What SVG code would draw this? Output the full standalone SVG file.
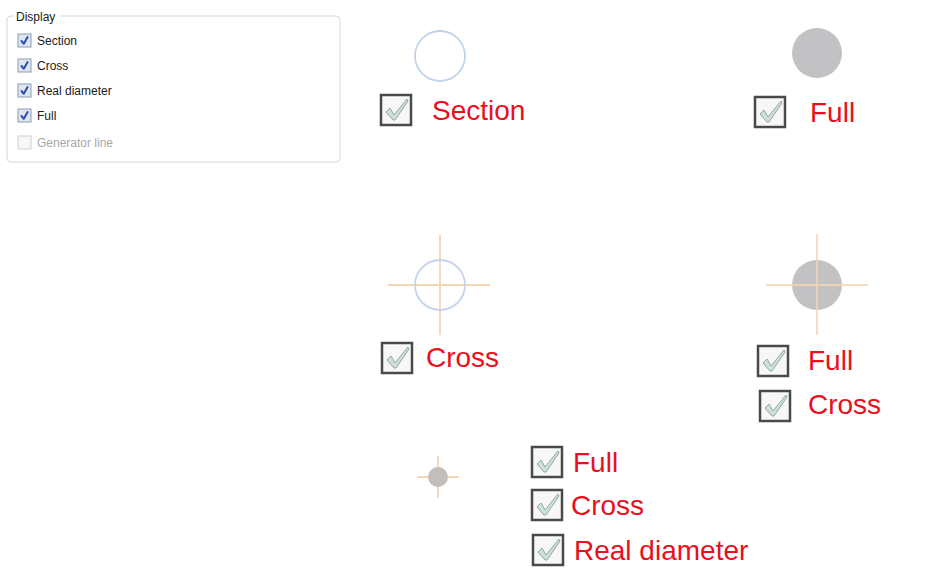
<svg xmlns="http://www.w3.org/2000/svg" width="943" height="583" viewBox="0 0 943 583">
<style>
.ui{font-family:"Liberation Sans",Arial,sans-serif;font-size:12px;fill:#1a1a1a}
.dis{fill:#a8a8a8}
.lbl{font-family:"Liberation Sans",Arial,sans-serif;font-size:28px;fill:#e8101c}
.sb{fill:#dfe6f0;stroke:#8e9bb0;stroke-width:1}
.sck{fill:none;stroke:#2a4fb0;stroke-width:2;stroke-linecap:round;stroke-linejoin:round}
.bb{fill:#f6f7f6;stroke:#4a4a4a;stroke-width:2.5}
.bck{fill:#cfe0d8;stroke:#8fa8a0;stroke-width:1;stroke-linejoin:round}
.ring{fill:none;stroke:#c3d3ec;stroke-width:1.8}
.disk{fill:#c2c2c4}
.cr{stroke:#f3d6b4;stroke-width:1.8}
</style>
<defs>
<g id="sbox"><rect class="sb" x="0" y="0" width="13" height="13"/><path class="sck" d="M3.5 7 L5.8 9.8 L9.6 3"/></g>
<g id="bbox"><rect class="bb" x="0" y="0" width="30" height="30"/><path class="bck" d="M5 17 L9 13 L13 20 L26 4 L27 6 L14 25 L12 25 Z"/></g>
</defs>
<rect width="943" height="583" fill="#ffffff"/>

<g id="panel">
<path d="M14 16 H11 Q7 16 7 20 V158 Q7 162 11 162 H336 Q340 162 340 158 V20 Q340 16 336 16 H60" fill="none" stroke="#d4d7dc" stroke-width="1"/>
<text class="ui" x="16" y="21">Display</text>
<use href="#sbox" x="18" y="34"/><text class="ui" x="37" y="45">Section</text>
<use href="#sbox" x="18" y="59"/><text class="ui" x="37" y="70">Cross</text>
<use href="#sbox" x="18" y="84"/><text class="ui" x="37" y="95">Real diameter</text>
<use href="#sbox" x="18" y="109"/><text class="ui" x="37" y="120">Full</text>
<rect x="18" y="136" width="13" height="13" fill="#f7f7f7" stroke="#d0d0d0"/><text class="ui dis" x="37" y="147">Generator line</text>
</g>

<g id="section">
<circle class="ring" cx="440" cy="56" r="25"/>
<use href="#bbox" x="381" y="95"/>
<text class="lbl" x="432" y="120">Section</text>
</g>

<g id="full">
<circle class="disk" cx="817" cy="53" r="25"/>
<use href="#bbox" x="755" y="97"/>
<text class="lbl" x="810" y="122">Full</text>
</g>

<g id="cross">
<line class="cr" x1="388" y1="285" x2="490" y2="285"/>
<line class="cr" x1="440" y1="235" x2="440" y2="335"/>
<circle class="ring" cx="440" cy="285" r="25"/>
<use href="#bbox" x="382" y="343"/>
<text class="lbl" x="426" y="367">Cross</text>
</g>

<g id="fullcross">
<circle class="disk" cx="817" cy="285" r="25"/>
<line class="cr" x1="766" y1="285" x2="868" y2="285" opacity="0.85"/>
<line class="cr" x1="817" y1="234" x2="817" y2="335" opacity="0.85"/>
<use href="#bbox" x="758" y="346"/>
<text class="lbl" x="808" y="370">Full</text>
<use href="#bbox" x="760" y="391"/>
<text class="lbl" x="808" y="414">Cross</text>
</g>

<g id="realdiam">
<line class="cr" x1="417" y1="477" x2="459" y2="477"/>
<line class="cr" x1="438" y1="456" x2="438" y2="498"/>
<circle cx="438" cy="477" r="10" fill="#c4beba"/>
<use href="#bbox" x="532" y="447"/>
<text class="lbl" x="573" y="472">Full</text>
<use href="#bbox" x="532" y="490"/>
<text class="lbl" x="571" y="515">Cross</text>
<use href="#bbox" x="533" y="535"/>
<text class="lbl" x="574" y="560">Real diameter</text>
</g>
</svg>
